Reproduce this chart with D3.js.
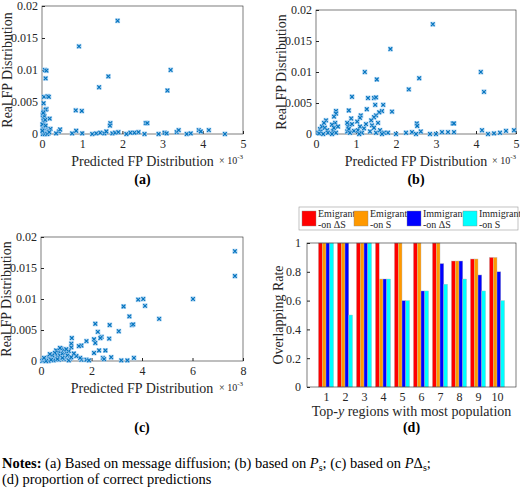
<!DOCTYPE html>
<html>
<head>
<meta charset="utf-8">
<script src="https://cdn.jsdelivr.net/npm/d3@7"></script>
<style>
  body { margin: 0; background: #fff; }
</style>
</head>
<body>
<svg width="520" height="490"></svg>
<script>
// scatter data: [predicted (x 1e-3), real]
const pointsA = [[1.88,.0177],[0.92,.0137],[1.65,.009],[1.42,.0073],[3.2,.01],[3.12,.0068],[0.07,.01],[0.11,.0099],[0.09,.0087],[0.05,.0058],[0.14,.0059],[0.17,.0058],[0.04,.0048],[0.84,.0037],[0.99,.0036],[0.11,.0039],[0.09,.0038],[0.19,.0024],[1.7,.0017],[1.69,.0013],[2.58,.0017],[2.62,.0017],[0.21,.0008],[0.42,.0004],[0.45,.0007],[0.35,.0001],[0.75,.0001],[0.85,.0005],[1.0,.0001],[1.25,0],[1.35,.0001],[1.45,.0002],[1.55,.0001],[1.6,.0004],[1.75,.0001],[1.82,.0002],[1.9,.0003],[2.1,0],[2.2,.0002],[2.3,.0002],[2.4,.0003],[2.55,0],[2.9,0],[3.05,.0002],[3.1,.0001],[3.35,.0003],[3.4,.0006],[3.6,0],[3.7,.0001],[3.9,.0006],[3.95,.0004],[4.15,.0006],[4.55,0],
  [0.02,.003],[0.03,.0025],[0.04,.002],[0.05,.0018],[0.03,.0015],[0.06,.0012],[0.02,.001],[0.07,.0009],[0.04,.0007],[0.08,.0006],[0.1,.0005],[0.05,.0004],[0.12,.0004],[0.03,.0003],[0.09,.0002],[0.14,.0002],[0.06,.0001],[0.02,0],[0.11,.0001],[0.16,.0001],[0.07,0],[0.13,0],[0.04,.0035],[0.06,.0028],[0.08,.0022],[0.03,.0033],[0.01,.0005],[0.01,.0015],[0.09,.0013],[0.18,.0003]];
const pointsB = [[2.92,.0177],[1.86,.0137],[1.22,.01],[1.52,.0088],[2.58,.009],[2.32,.0072],[4.12,.01],[4.2,.0068],[0.9,.006],[1.3,.0058],[1.45,.0058],[1.5,.0059],[1.48,.0047],[1.68,.0047],[0.82,.0038],[1.27,.004],[1.65,.0037],[1.9,.0036],[1.58,.0035],[1.5,.003],[1.45,.0027],[1.12,.003],[1.1,.0026],[0.88,.0025],[0.5,.0037],[0.5,.0033],[0.45,.0028],[0.25,.0022],[0.48,.0018],[1.38,.0022],[2.52,.0017],[2.53,.0013],[3.42,.0017],[3.45,.0017],[0.4,.0015],[0.85,.0015],[1.03,.002],
  [1.8,.0002],[2.0,0],[2.25,.0002],[2.4,.0003],[2.5,0],[2.62,.0004],[2.85,0],[3.0,0],[3.15,.0003],[3.3,.0003],[3.45,.0003],[4.15,.0006],[4.3,0],[4.45,.0001],[4.6,.0002],[4.75,.0005],[4.95,.0006],
  [0.05,.0002],[0.1,.0008],[0.15,.0012],[0.2,.0018],[0.12,.0004],[0.22,.001],[0.28,.0006],[0.08,.0001],[0.18,0],[0.3,.0002],[0.42,.0005],[0.45,.001],[0.5,.0002],[0.55,.0012],[0.4,0],[0.78,.0004],[0.8,.0012],[0.82,.0008],[0.85,.0002],[0.9,.0016],[0.95,.0005],[0.78,.0018],[1.05,.0006],[1.1,.0012],[1.15,.0002],[1.2,.0009],[1.25,.0016],[1.08,0],[1.35,.0004],[1.4,.0014],[1.45,.001],[1.5,.0002],[1.55,.0018],[1.6,.0006],[1.7,.0002],[1.65,0]];
const pointsC = [[7.68,.0177],[7.68,.0137],[6.02,.01],[4.05,.01],[3.85,.0099],[4.12,.0089],[3.27,.0088],[3.5,.0072],[4.68,.0068],[3.6,.0058],[3.65,.0059],[2.15,.006],[2.72,.0058],[3.08,.0048],[2.25,.0047],[2.4,.0039],[2.35,.0037],[2.1,.0035],[2.7,.0036],[1.22,.0037],[2.15,.0029],[1.8,.0032],[1.6,.0025],[1.5,.0024],[1.2,.0028],[1.2,.0022],[2.3,.0017],[2.55,.0017],[2.1,.0013],[2.78,.0006],[3.18,.0001],[3.42,.0001],[3.68,.0005],[2.45,.0005],[2.5,.0003],[1.6,.0002],[1.8,.0002],[1.9,.0001],[1.55,.0005],[1.4,.0008],[1.3,.0012],
  [0.05,0],[0.1,.0002],[0.15,.0001],[0.2,.0004],[0.25,.0002],[0.3,.0006],[0.35,.0003],[0.4,.0008],[0.45,.0005],[0.5,.001],[0.55,.0004],[0.6,.0012],[0.65,.0007],[0.7,.0015],[0.75,.0009],[0.8,.002],[0.85,.0012],[0.9,.0018],[0.95,.0006],[1.0,.0014],[1.05,.0009],[1.1,.0016],[1.15,.0004],[0.3,0],[0.5,.0001],[0.7,.0002],[0.9,.0003],[1.1,.0001],[0.6,.0017],[0.75,.0021],[0.4,.0002],[0.2,0],[0.55,.0013],[0.85,.0005],[1.0,.0019],[0.65,.0003],[0.45,.0009],[0.35,.0011],[0.12,.0005],[1.2,.0006]];

// bar data
const regions = [1,2,3,4,5,6,7,8,9,10];
const seriesNames = [["Emigrant","-on ΔS"],["Emigrant","-on S"],["Immigrant","-on ΔS"],["Immigrant","-on S"]];
const seriesColors = ["#ff0000","#ff9900","#0000ff","#00ffff"];
const emigrantDS = [1,1,1,1,1,1,1,0.875,0.889,0.9];
const emigrantS  = [1,1,1,0.75,1,1,1,0.875,0.889,0.9];
const immigrantDS= [1,1,1,0.75,0.6,0.667,0.857,0.875,0.778,0.8];
const immigrantS = [1,0.5,1,0.75,0.6,0.667,0.714,0.75,0.667,0.6];
const barSeries = [emigrantDS, emigrantS, immigrantDS, immigrantS];

const yTicksScatter = [0, 0.005, 0.01, 0.015, 0.02];
const svg = d3.select("svg");
const axisColor = "#262626";
const serif = "'Liberation Serif', 'DejaVu Serif', serif";

function frame(g, w, h) {
  g.append("rect").attr("width", w).attr("height", h)
    .attr("fill", "none").attr("stroke", axisColor).attr("stroke-width", 0.6);
}

function styleAxis(a) {
  a.attr("font-family", null).attr("font-size", null);
  a.select(".domain").remove();
  a.selectAll("line").attr("stroke", axisColor);
  a.selectAll("text").style("font-size", "12px");
}

function scatter(x0, y0, w, h, xmax, xticks, data, caption, capY) {
  const g = svg.append("g").attr("transform", `translate(${x0},${y0})`);
  const x = d3.scaleLinear().domain([0, xmax]).range([0, w]);
  const y = d3.scaleLinear().domain([0, 0.02]).range([h, 0]);
  g.append("g").attr("transform", `translate(0,${h})`)
    .call(d3.axisBottom(x).tickValues(xticks).tickSize(-3).tickPadding(5).tickFormat(d3.format("")))
    .call(styleAxis);
  g.append("g")
    .call(d3.axisLeft(y).tickValues(yTicksScatter).tickSize(-3).tickPadding(4).tickFormat(d => String(d)))
    .call(styleAxis);
  frame(g, w, h);
  const pts = g.append("g").selectAll("g").data(data).join("g")
    .attr("transform", d => `translate(${x(d[0])},${y(d[1])})`);
  pts.append("rect").attr("x", -2.5).attr("y", -2.5).attr("width", 5).attr("height", 5)
    .attr("fill", "#9ccaf0").attr("opacity", 0.8);
  pts.append("path").attr("d", "M-1.8,-1.8L1.8,1.8M-1.8,1.8L1.8,-1.8")
    .attr("stroke", "#0072BD").attr("stroke-width", 1.1);
  g.append("text").attr("x", w / 2).attr("y", h + 32).attr("text-anchor", "middle")
    .style("font-size", "14px").text("Predicted FP Distribution");
  const sx = g.append("text").attr("x", w).attr("y", h + 30).attr("text-anchor", "end").style("font-size", "10px");
  sx.append("tspan").text("× 10");
  sx.append("tspan").attr("dy", -5).style("font-size", "7px").text("-3");
  g.append("text").attr("transform", `translate(-30,${h / 2}) rotate(-90)`)
    .attr("text-anchor", "middle").style("font-size", "14px").text("Real FP Distribution");
  svg.append("text").attr("x", x0 + w / 2).attr("y", capY).attr("text-anchor", "middle")
    .style("font-size", "14px").style("font-weight", "bold").text(caption);
}

scatter(42, 6, 201, 128, 5, [0,1,2,3,4,5], pointsA, "(a)", 184);
scatter(316, 10, 200, 124, 5, [0,1,2,3,4,5], pointsB, "(b)", 184);
scatter(41, 237, 202, 124, 8, [0,2,4,6,8], pointsC, "(c)", 432);

// panel d
const dx0 = 307, dy0 = 243, dw = 209, dh = 144;
const gd = svg.append("g").attr("transform", `translate(${dx0},${dy0})`);
const xd = d3.scaleLinear().domain([0, 11]).range([0, dw]);
const yd = d3.scaleLinear().domain([0, 1]).range([dh, 0]);
gd.append("g").attr("transform", `translate(0,${dh})`)
  .call(d3.axisBottom(xd).tickValues(regions).tickSize(-3).tickPadding(5).tickFormat(d3.format("d")))
  .call(styleAxis);
gd.append("g")
  .call(d3.axisLeft(yd).tickValues([0,0.2,0.4,0.6,0.8,1]).tickSize(-3).tickPadding(6).tickFormat(d => String(d)))
  .call(styleAxis);
const bw = 3.8;
barSeries.forEach((vals, si) => {
  gd.append("g").selectAll("rect").data(vals).join("rect")
    .attr("x", (d, i) => xd(regions[i]) + (si - 2) * bw)
    .attr("y", d => yd(d))
    .attr("width", bw)
    .attr("height", d => dh - yd(d))
    .attr("fill", seriesColors[si])
    .attr("stroke", "#bbbbbb").attr("stroke-width", 0.4);
});
frame(gd, dw, dh);
const xt = gd.append("text").attr("x", dw / 2).attr("y", dh + 29).attr("text-anchor", "middle")
  .style("font-size", "14px");
xt.append("tspan").text("Top-");
xt.append("tspan").style("font-style", "italic").text("y");
xt.append("tspan").text(" regions with most population");
gd.append("text").attr("transform", `translate(-24,${dh / 2}) rotate(-90)`)
  .attr("text-anchor", "middle").style("font-size", "14px").text("Overlapping Rate");
svg.append("text").attr("x", dx0 + dw / 2).attr("y", 432).attr("text-anchor", "middle")
  .style("font-size", "14px").style("font-weight", "bold").text("(d)");

// legend
const lg = svg.append("g").attr("transform", "translate(299,207)");
lg.append("rect").attr("width", 219).attr("height", 23).attr("fill", "#fff")
  .attr("stroke", "#999").attr("stroke-width", 0.6);
const legX = [3, 55, 108, 164];
seriesNames.forEach((nm, i) => {
  lg.append("rect").attr("x", legX[i]).attr("y", 4).attr("width", 14).attr("height", 15)
    .attr("fill", seriesColors[i]).attr("stroke", "#888").attr("stroke-width", 0.4);
  const t = lg.append("text").attr("x", legX[i] + 16).attr("y", 10).style("font-size", "10px");
  t.append("tspan").text(nm[0]);
  t.append("tspan").attr("x", legX[i] + 16).attr("dy", 11).text(nm[1]);
});

// notes
const n1 = svg.append("text").attr("x", 2).attr("y", 468).style("font-size", "14.5px").style("fill", "#000");
n1.append("tspan").style("font-weight", "bold").text("Notes:");
n1.append("tspan").text(" (a) Based on message diffusion; (b) based on ");
n1.append("tspan").style("font-style", "italic").text("P");
n1.append("tspan").attr("dy", 3).style("font-size", "10px").text("s");
n1.append("tspan").attr("dy", -3).text("; (c) based on ");
n1.append("tspan").style("font-style", "italic").text("P");
n1.append("tspan").text("Δ");
n1.append("tspan").attr("dy", 3).style("font-size", "10px").text("s");
n1.append("tspan").attr("dy", -3).text(";");
svg.append("text").attr("x", 2).attr("y", 484).style("font-size", "14.5px").style("fill", "#000")
  .text("(d) proportion of correct predictions");

svg.selectAll("text").style("font-family", serif);
svg.selectAll("g text, g").filter(function () { return this.tagName === "text"; }).style("fill", axisColor);
</script>
</body>
</html>
